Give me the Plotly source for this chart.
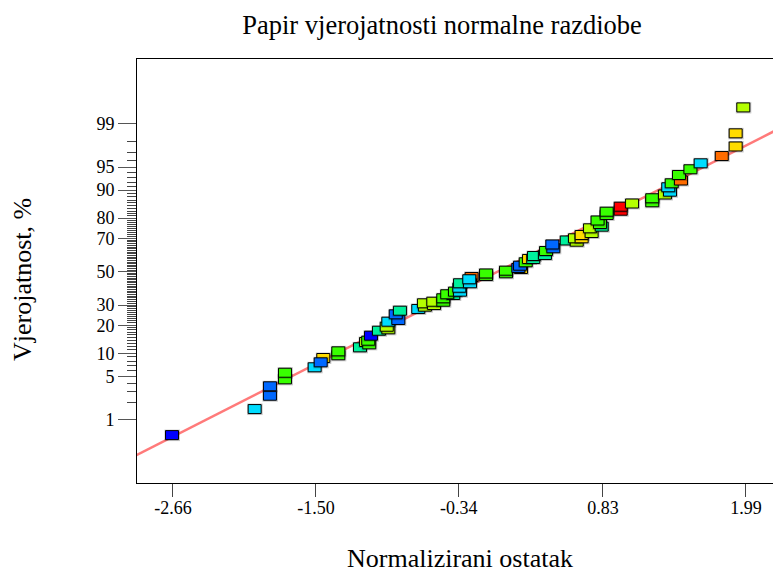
import plotly.graph_objects as go
from statistics import NormalDist

nd = NormalDist()

# ---------------- data ----------------
residual = [
    -2.668, -1.997, -1.873, -1.873, -1.751, -1.751, -1.510, -1.440, -1.461, -1.318,
    -1.318, -1.142, -1.093, -1.067, -1.075, -1.053, -0.988, -0.912, -0.925, -0.912,
    -0.831, -0.852, -0.818, -0.669, -0.615, -0.623, -0.541, -0.547, -0.466, -0.466,
    -0.385, -0.434, -0.371, -0.330, -0.336, -0.330, -0.236, -0.249, -0.255, -0.119,
    -0.119, 0.043, 0.043, 0.165, 0.143, 0.157, 0.203, 0.230, 0.264, 0.270,
    0.359, 0.368, 0.427, 0.419, 0.536, 0.617, 0.603, 0.657, 0.657, 0.738,
    0.725, 0.820, 0.806, 0.786, 0.860, 0.860, 0.974, 0.974, 1.066, 1.230,
    1.230, 1.333, 1.374, 1.360, 1.388, 1.463, 1.447, 1.540, 1.623, 1.794,
    1.907, 1.907, 1.969,
]
prob_pct = [
    0.51, 1.54, 2.56, 3.58, 4.53, 5.61, 6.64, 8.74, 7.71, 9.44,
    10.53, 11.72, 13.45, 12.67, 13.90, 15.72, 17.67, 18.25, 19.35, 21.59,
    22.39, 25.14, 26.99, 27.89, 29.12, 30.96, 30.01, 31.85, 31.85, 33.79,
    35.72, 36.13, 37.68, 37.68, 40.05, 42.78, 46.69, 42.78, 45.26, 47.29,
    48.88, 49.00, 50.64, 51.68, 52.31, 53.76, 55.88, 57.93, 57.93, 59.75,
    60.37, 62.74, 64.36, 66.57, 68.82, 68.15, 70.02, 70.02, 71.80, 72.84,
    75.24, 76.05, 77.34, 78.96, 81.38, 82.72, 83.12, 84.66, 85.82, 86.24,
    87.58, 88.76, 89.58, 90.78, 91.77, 92.42, 93.58, 94.63, 95.58, 96.55,
    97.55, 98.52, 99.51,
]
point_color = [
    "blue", "cyan", "azure", "azure", "green", "green", "cyan", "yellow", "azure", "green",
    "green", "teal", "lime", "green", "green", "blue", "teal", "lime", "lime", "cyan",
    "azure", "azure", "teal", "cyan", "lime", "lime", "lime", "lime", "green", "green",
    "teal", "green", "green", "cyan", "cyan", "teal", "orange", "cyan", "cyan", "green",
    "green", "green", "green", "yellow", "azure", "azure", "green", "yellow", "teal", "teal",
    "teal", "green", "azure", "azure", "teal", "lime", "lime", "yellow", "yellow", "lime",
    "lime", "teal", "green", "green", "green", "green", "red", "red", "lime", "green",
    "green", "lime", "cyan", "cyan", "green", "orange", "green", "green", "cyan", "orange",
    "yellow", "yellow", "lime",
]

fit_x = [-3.0, 2.3]
fit_pct = [0.171, 98.896]

x_tick_vals = [-2.66, -1.50, -0.34, 0.83, 1.99]
y_tick_pct = [1, 5, 10, 20, 30, 50, 70, 80, 90, 95, 99]
y_minor_pct = ([2, 3, 4, 6, 7, 8, 9] + list(range(11, 20)) + list(range(21, 30))
               + list(range(31, 50)) + list(range(51, 70)) + list(range(71, 80))
               + list(range(81, 90)) + [91, 92, 93, 94, 96, 97, 98])

palette = {
    "blue": "#0000ff", "azure": "#0068ff", "cyan": "#00dcff", "teal": "#00f09c",
    "green": "#38ff00", "lime": "#b4ff00", "yellow": "#ffdc00", "orange": "#ff6c00",
    "red": "#ff0000",
}

q = lambda p: nd.inv_cdf(p / 100.0)

FONT = "Liberation Serif, Times New Roman, serif"

fig = go.Figure()

fig.add_trace(go.Scatter(
    x=fit_x, y=[q(p) for p in fit_pct], mode="lines",
    line=dict(color="#ff7a7a", width=2.5), hoverinfo="skip", showlegend=False,
))

pts_z = [q(p) for p in prob_pct]
fig.add_trace(go.Scatter(
    x=residual, y=pts_z, mode="markers",
    marker=dict(size=12, symbol="square", opacity=0),
    text=[f"{p:.2f}%" for p in prob_pct], hoverinfo="x+text", showlegend=False,
))

shapes = []
for xv, zv, c in zip(residual, pts_z, point_color):
    shapes.append(dict(type="rect", xref="x", yref="y", xsizemode="pixel", ysizemode="pixel",
                       xanchor=xv, yanchor=zv, x0=-7.5, x1=8.0, y0=-6.0, y1=5.5,
                       fillcolor="rgba(0,0,0,0.22)", line=dict(width=0), layer="above"))
    shapes.append(dict(type="rect", xref="x", yref="y", xsizemode="pixel", ysizemode="pixel",
                       xanchor=xv, yanchor=zv, x0=-6.5, x1=6.5, y0=-4.5, y1=4.5,
                       fillcolor=palette[c], line=dict(color="#000000", width=1), layer="above"))

fig.update_layout(
    width=773, height=576,
    margin=dict(l=137, r=0, t=59, b=93),
    paper_bgcolor="white", plot_bgcolor="white",
    font=dict(family=FONT, size=18, color="#000"),
    title=dict(text="Papir vjerojatnosti normalne razdiobe", x=442 / 773, xref="container",
               xanchor="center", y=1 - 25 / 576, yanchor="middle", yref="container",
               font=dict(family=FONT, size=26.5, color="#000")),
    shapes=shapes,
    annotations=[
        dict(text="Normalizirani ostatak", xref="paper", yref="paper", x=(459.5 - 137) / 636,
             y=-(575 - 483) / 424, xanchor="center", yanchor="bottom", showarrow=False,
             font=dict(family=FONT, size=26, color="#000")),
        dict(text="Vjerojatnost, %", xref="paper", yref="paper", x=(22 - 137) / 636, y=(483 - 280) / 424,
             xanchor="center", yanchor="middle", showarrow=False, textangle=-90,
             font=dict(family=FONT, size=26, color="#000")),
    ],
)

fig.update_xaxes(
    range=[-2.952, 2.21], showgrid=False, zeroline=False,
    showline=True, linecolor="#000", linewidth=1, mirror=True,
    tickmode="array", tickvals=x_tick_vals, ticktext=[f"{v:.2f}" for v in x_tick_vals],
    ticks="outside", ticklen=13, tickcolor="#444", tickwidth=1, ticklabelstandoff=-5,
    tickfont=dict(family=FONT, size=18, color="#000"),
)
fig.update_yaxes(
    range=[-3.322, 3.344], showgrid=False, zeroline=False,
    showline=True, linecolor="#000", linewidth=1, mirror=False,
    tickmode="array", tickvals=[q(p) for p in y_tick_pct], ticktext=[str(p) for p in y_tick_pct],
    ticks="outside", ticklen=18, tickcolor="#555", tickwidth=1,
    tickfont=dict(family=FONT, size=18, color="#000"),
    minor=dict(tickmode="array", tickvals=[q(p) for p in y_minor_pct],
               ticks="outside", ticklen=9, tickcolor="#444", tickwidth=1),
)

fig.write_html("out.html", config={"displayModeBar": False},
               post_script="document.body.style.margin='0px';")
